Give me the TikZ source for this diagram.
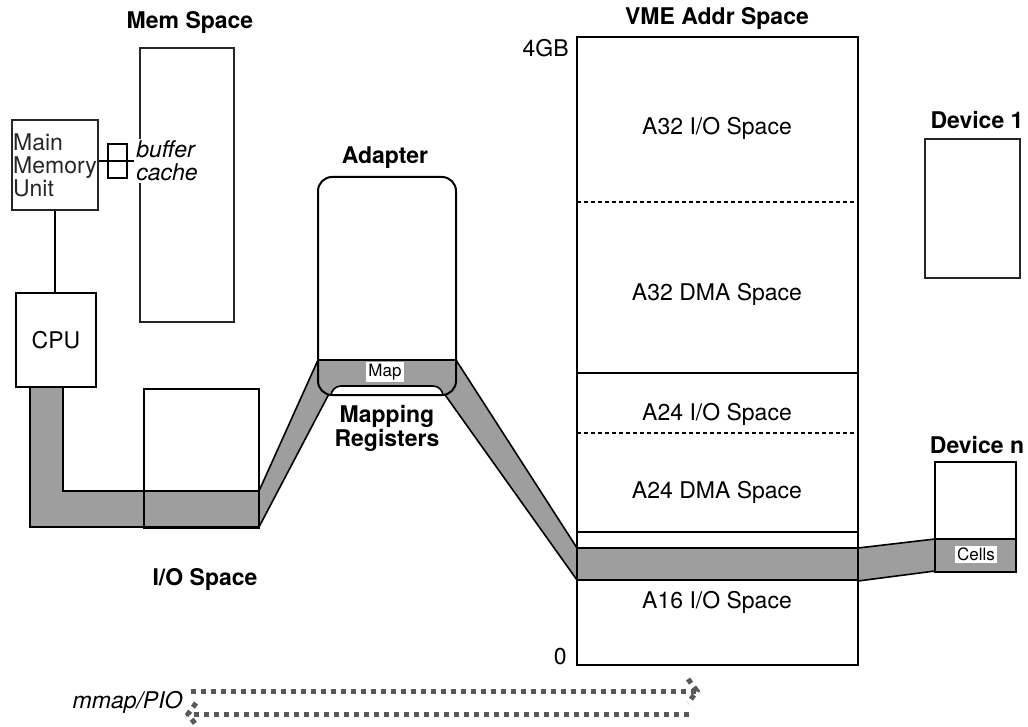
\documentclass[tikz,border=0pt]{standalone}
\usepackage{fontspec}
\setmainfont{TeX Gyre Heros}
\usetikzlibrary{calc, positioning}

\begin{document}
\begin{tikzpicture}[x=0.5pt, y=-0.5pt,
  font=\fontsize{11.5}{11.5}\selectfont,
  ttl/.style={font=\fontsize{11.5}{12}\selectfont\bfseries},
  small/.style={font=\fontsize{8.5}{8.5}\selectfont, fill=white, inner sep=1pt},
  box/.style={draw, line width=1pt, inner sep=0pt},
  rough/.style={draw, line width=0.7pt, black!85, inner sep=0pt},
  band/.style={fill=black!38},
  edge/.style={line width=0.8pt},
  divider/.style={line width=0.75pt, dash pattern=on 2pt off 1.5pt},
  stipple/.style={black!65, line width=2.5pt, dash pattern=on 2.6pt off 2.4pt}]
  \useasboundingbox (0,0) rectangle (1028,727);

  % shaded path: CPU -> I/O box
  \fill[band] (30,387) -- (63,387) -- (63,491) -- (259,491) -- (259,527) -- (30,527) -- cycle;
  \draw[edge] (30,387) -- (30,527) -- (259,527) (63,387) -- (63,491) -- (259,491);
  % up to the adapter and down to the VME space
  \fill[band] (259,491) -- (318,360) -- (331,390) -- (259,527) -- cycle;
  \draw[edge] (259,491) -- (318,360) (331,390) -- (259,527);
  \fill[band] (456,360) -- (577,548) -- (577,580) -- (443,392) -- cycle;
  \draw[edge] (456,360) -- (577,548) (443,392) -- (577,580);
  % map strip in the adapter
  \begin{scope}
    \clip[rounded corners=7pt] (318,177) rectangle (456,395);
    \fill[band] (318,360) rectangle (456,395);
    \draw[edge, fill=white, rounded corners=5pt] (331,386) rectangle (443,410);
  \end{scope}
  \draw[edge] (318,360) -- (456,360);
  % across the VME space to device n
  \fill[band] (577,548) rectangle (858,580);
  \draw[edge] (577,548) -- (858,548) (577,580) -- (858,580);
  \fill[band] (858,548) -- (935,539) -- (935,571) -- (858,581) -- cycle;
  \draw[edge] (858,548) -- (935,539) (858,581) -- (935,571);
  \fill[band] (935,539) rectangle (1016,572);
  \draw[edge] (935,539) -- (1016,539);

  % memory side
  \node[rough, minimum width=47pt, minimum height=137pt] (memsp) at (187,185) {};
  \node[ttl] (memlbl) at (190,22) {Mem Space};
  \node[rough, minimum width=43pt, minimum height=45pt, align=left] (mmu) at (55,165) {Main\\Memory\\Unit};
  \node[font=\fontsize{11.5}{11.5}\selectfont\itshape, fill=white, inner sep=1pt, align=left, anchor=west] (bufcache) at (134,161) {buffer\\cache};
  \draw[line width=0.7pt] (108,144) rectangle (127,161) (108,161) rectangle (127,178);
  \draw[line width=0.7pt] (mmu.east |- bufcache.west) -- (bufcache.west);
  \node[box, minimum width=40pt, minimum height=47pt] (cpu) at (56,340) {CPU};
  \draw[line width=0.7pt] (mmu.south) -- (mmu.south |- cpu.north);
  \node[box, minimum width=57.5pt, minimum height=69.5pt] (iobox) at (201.5,458.5) {};
  \node[ttl] (iolbl) at (205,579) {I/O Space};

  % adapter
  \node[box, rounded corners=7pt, minimum width=69pt, minimum height=109pt] (adapter) at (387,286) {};
  \node[ttl] (adlbl) at (385,158) {Adapter};
  \node[small] (map) at (385,372) {Map};
  \node[ttl, align=center] (mreg) at (387,428) {Mapping\\Registers};

  % VME address space
  \node[box, minimum width=140.5pt, minimum height=314pt] (vme) at (717.5,351) {};
  \node[ttl] (vmelbl) at (717,18) {VME Addr Space};
  \node[anchor=east, inner sep=0pt] (top) at (569,48) {4GB};
  \node[anchor=east, inner sep=0pt] (bot) at (567,657) {0};
  \draw[divider] (577,202) -- (858,202);
  \draw[line width=1pt] (577,373) -- (858,373);
  \draw[divider] (577,433) -- (858,433);
  \draw[line width=1pt] (577,532) -- (858,532);
  \node (a32io) at (717,128) {A32 I/O Space};
  \node (a32dma) at (717,294) {A32 DMA Space};
  \node (a24io) at (717,414) {A24 I/O Space};
  \node (a24dma) at (717,492) {A24 DMA Space};
  \node (a16io) at (717,602) {A16 I/O Space};

  % devices
  \node[rough, minimum width=47.5pt, minimum height=69.5pt] (dev1) at (972.5,208.5) {};
  \node[ttl] (dev1lbl) at (977,120) {Device 1};
  \node[box, minimum width=40.5pt, minimum height=55pt] (devn) at (975.5,517) {};
  \node[ttl] (devnlbl) at (977,445) {Device n};
  \node[small] (cells) at (976,554) {Cells};

  % mmap/PIO arrows
  \node[font=\fontsize{11.5}{11.5}\selectfont\itshape, anchor=east, inner sep=0pt] (pio) at (183,702) {mmap/PIO};
  \coordinate (pio-a) at (191,691);
  \coordinate (pio-b) at (697,691);
  \coordinate (pio-c) at (689,714);
  \coordinate (pio-d) at (188,714);
  \draw[stipple] (pio-a) -- (pio-b);
  \draw[stipple] ($(pio-b)+(-9,-12)$) -- (pio-b) -- ($(pio-b)+(-9,12)$);
  \draw[stipple] (pio-c) -- (pio-d);
  \draw[stipple] ($(pio-d)+(8,-11)$) -- (pio-d) -- ($(pio-d)+(8,11)$);
\end{tikzpicture}
\end{document}
